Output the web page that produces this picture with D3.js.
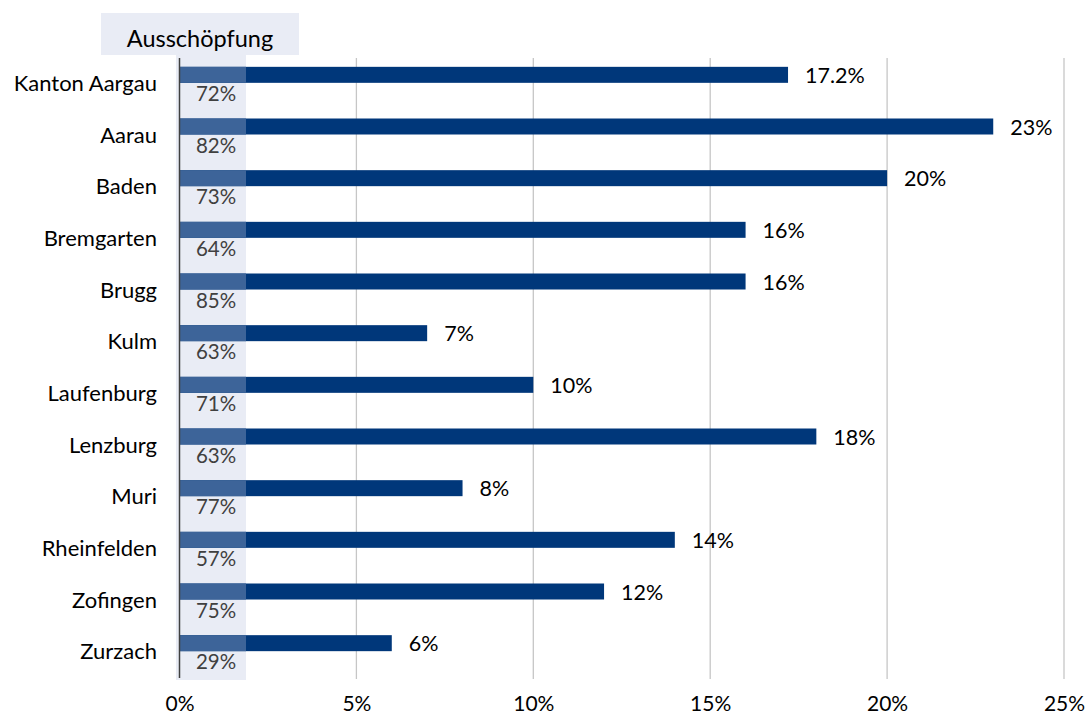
<!DOCTYPE html>
<html>
<head>
<meta charset="utf-8">
<script src="https://cdn.jsdelivr.net/npm/d3@7"></script>
<style>
  html, body { margin: 0; padding: 0; background: #fff; }
  svg { display: block; }
  text { font-family: Lato, "Open Sans", sans-serif; }
</style>
</head>
<body>
<svg id="chart" width="1086" height="715"></svg>
<script>
const categories = ["Kanton Aargau", "Aarau", "Baden", "Bremgarten", "Brugg", "Kulm",
  "Laufenburg", "Lenzburg", "Muri", "Rheinfelden", "Zofingen", "Zurzach"];
const values = [17.2, 23, 20, 16, 16, 7, 10, 18, 8, 14, 12, 6];
const valueLabels = ["17.2%", "23%", "20%", "16%", "16%", "7%", "10%", "18%", "8%", "14%", "12%", "6%"];
const ausschoepfung = [72, 82, 73, 64, 85, 63, 71, 63, 77, 57, 75, 29];
const xTicks = [0, 5, 10, 15, 20, 25];
const headerLabel = "Ausschöpfung";

const data = categories.map((c, i) => ({ cat: c, v: values[i], lab: valueLabels[i], a: ausschoepfung[i] }));

const svg = d3.select("#chart");
const x = d3.scaleLinear().domain([0, 25]).range([179.5, 1064]);
const y = d3.scaleBand().domain(categories).range([57, 677]).padding(0);
const barH = 16;
const bandLeft = 176, bandRight = 246;

// header box
svg.append("rect").attr("x", 101).attr("y", 13).attr("width", 198).attr("height", 42).attr("fill", "#E9ECF5");
svg.append("text").attr("x", 200).attr("y", 46.5).attr("text-anchor", "middle")
  .attr("font-size", 23.5).attr("fill", "#000").text(headerLabel);

// band
svg.append("rect").attr("x", bandLeft).attr("y", 53).attr("width", bandRight - bandLeft).attr("height", 627).attr("fill", "#E9ECF5");

// gridlines
svg.append("g").selectAll("line").data(xTicks.filter(t => t > 0)).join("line")
  .attr("x1", d => x(d)).attr("x2", d => x(d)).attr("y1", 58).attr("y2", 679)
  .attr("stroke", "#C6C6C6").attr("stroke-width", 1.3);

// bars
const barG = svg.append("g");
barG.selectAll("rect.bar").data(data).join("rect").attr("class", "bar")
  .attr("x", x(0)).attr("y", d => y(d.cat) + y.bandwidth() / 2 - barH)
  .attr("width", d => x(d.v) - x(0)).attr("height", barH)
  .attr("fill", "#00377A");
// lighter part inside band
barG.selectAll("rect.ov").data(data).join("rect").attr("class", "ov")
  .attr("x", x(0)).attr("y", d => y(d.cat) + y.bandwidth() / 2 - barH)
  .attr("width", d => Math.min(x(d.v), bandRight) - x(0)).attr("height", barH)
  .attr("fill", "#3D6499");

// axis line
svg.append("line").attr("x1", x(0)).attr("x2", x(0)).attr("y1", 58).attr("y2", 678)
  .attr("stroke", "#404040").attr("stroke-width", 1.5);

// value labels
svg.append("g").selectAll("text").data(data).join("text")
  .attr("x", d => x(d.v) + 17).attr("y", d => y(d.cat) + y.bandwidth() / 2 - 8)
  .attr("dominant-baseline", "central").attr("font-size", 21.5).attr("fill", "#000")
  .text(d => d.lab);

// ausschoepfung labels
svg.append("g").selectAll("text").data(data).join("text")
  .attr("x", 216).attr("y", d => y(d.cat) + y.bandwidth() / 2 + 18)
  .attr("text-anchor", "middle").attr("font-size", 20.5).attr("fill", "#404040")
  .text(d => d.a + "%");

// category labels (y axis)
const yAxis = d3.axisLeft(y).tickSize(0).tickPadding(0);
const yg = svg.append("g").attr("transform", `translate(157,0)`).call(yAxis);
yg.select(".domain").remove();
yg.selectAll("text").attr("font-size", 22).attr("fill", "#000")
  .attr("dy", null).attr("dominant-baseline", "auto")
  .attr("y", 8).style("font-family", "Lato, 'Open Sans', sans-serif");

// x axis
const xAxis = d3.axisBottom(x).tickValues(xTicks).tickFormat(d => d + "%").tickSize(0).tickPadding(0);
const xg = svg.append("g").attr("transform", "translate(0,0)").call(xAxis);
xg.select(".domain").remove();
xg.selectAll("text").attr("font-size", 21).attr("fill", "#000")
  .attr("dy", null).attr("y", 711).style("font-family", "Lato, 'Open Sans', sans-serif");
</script>
</body>
</html>
